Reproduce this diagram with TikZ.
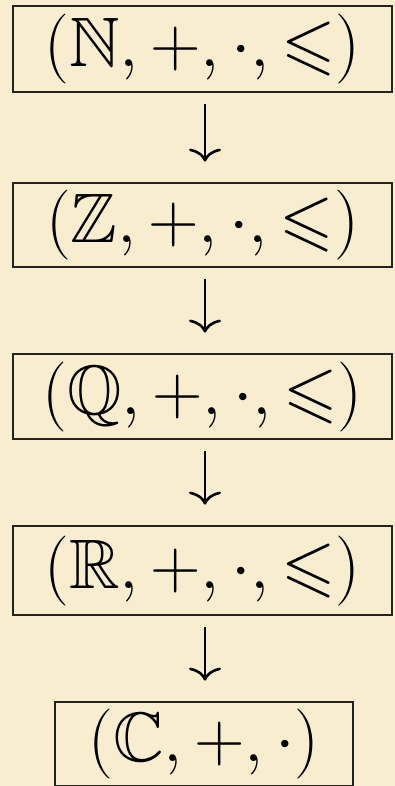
\documentclass[tikz,border=0pt]{standalone}
\usepackage{fix-cm}
\usepackage{amssymb}
\usetikzlibrary{arrows.meta}
\definecolor{parchment}{RGB}{249,237,208}
\definecolor{frame}{RGB}{35,35,35}
\tikzset{
  structbox/.style={draw=frame, line width=2.8pt, inner sep=0pt, text=black,
    font=\fontsize{70}{84}\selectfont},
  embed/.style={line width=2.6pt, black, -{To[length=13pt,width=32pt,line width=2.6pt]},
    shorten <=11pt, shorten >=20pt},
}
\begin{document}
\begin{tikzpicture}[x=1pt,y=-1pt]
\fill[parchment] (0,0) rectangle (395,786);
\useasboundingbox (0,0) rectangle (395,786);
\node[structbox, minimum width=379pt, minimum height=86pt] (n) at (202.5,49) {$(\mathbb{N},+,\cdot,\leqslant)$};
\node[structbox, minimum width=379pt, minimum height=84pt] (z) at (202.5,225) {$(\mathbb{Z},+,\cdot,\leqslant)$};
\node[structbox, minimum width=379pt, minimum height=85pt] (q) at (202.5,396.5) {$(\mathbb{Q},+,\cdot,\leqslant)$};
\node[structbox, minimum width=379pt, minimum height=89pt] (r) at (202.5,570.5) {$(\mathbb{R},+,\cdot,\leqslant)$};
\node[structbox, minimum width=298pt, minimum height=84pt] (c) at (204,744) {$(\mathbb{C},+,\cdot)$};
\draw[embed] ([xshift=2.5pt]n.south) -- ([xshift=2.5pt]z.north);
\draw[embed] ([xshift=2.5pt]z.south) -- ([xshift=2.5pt]q.north);
\draw[embed] ([xshift=2.5pt]q.south) -- ([xshift=2.5pt]r.north);
\draw[embed] ([xshift=2.5pt]r.south) -- ([xshift=1pt]c.north);
\end{tikzpicture}
\end{document}
